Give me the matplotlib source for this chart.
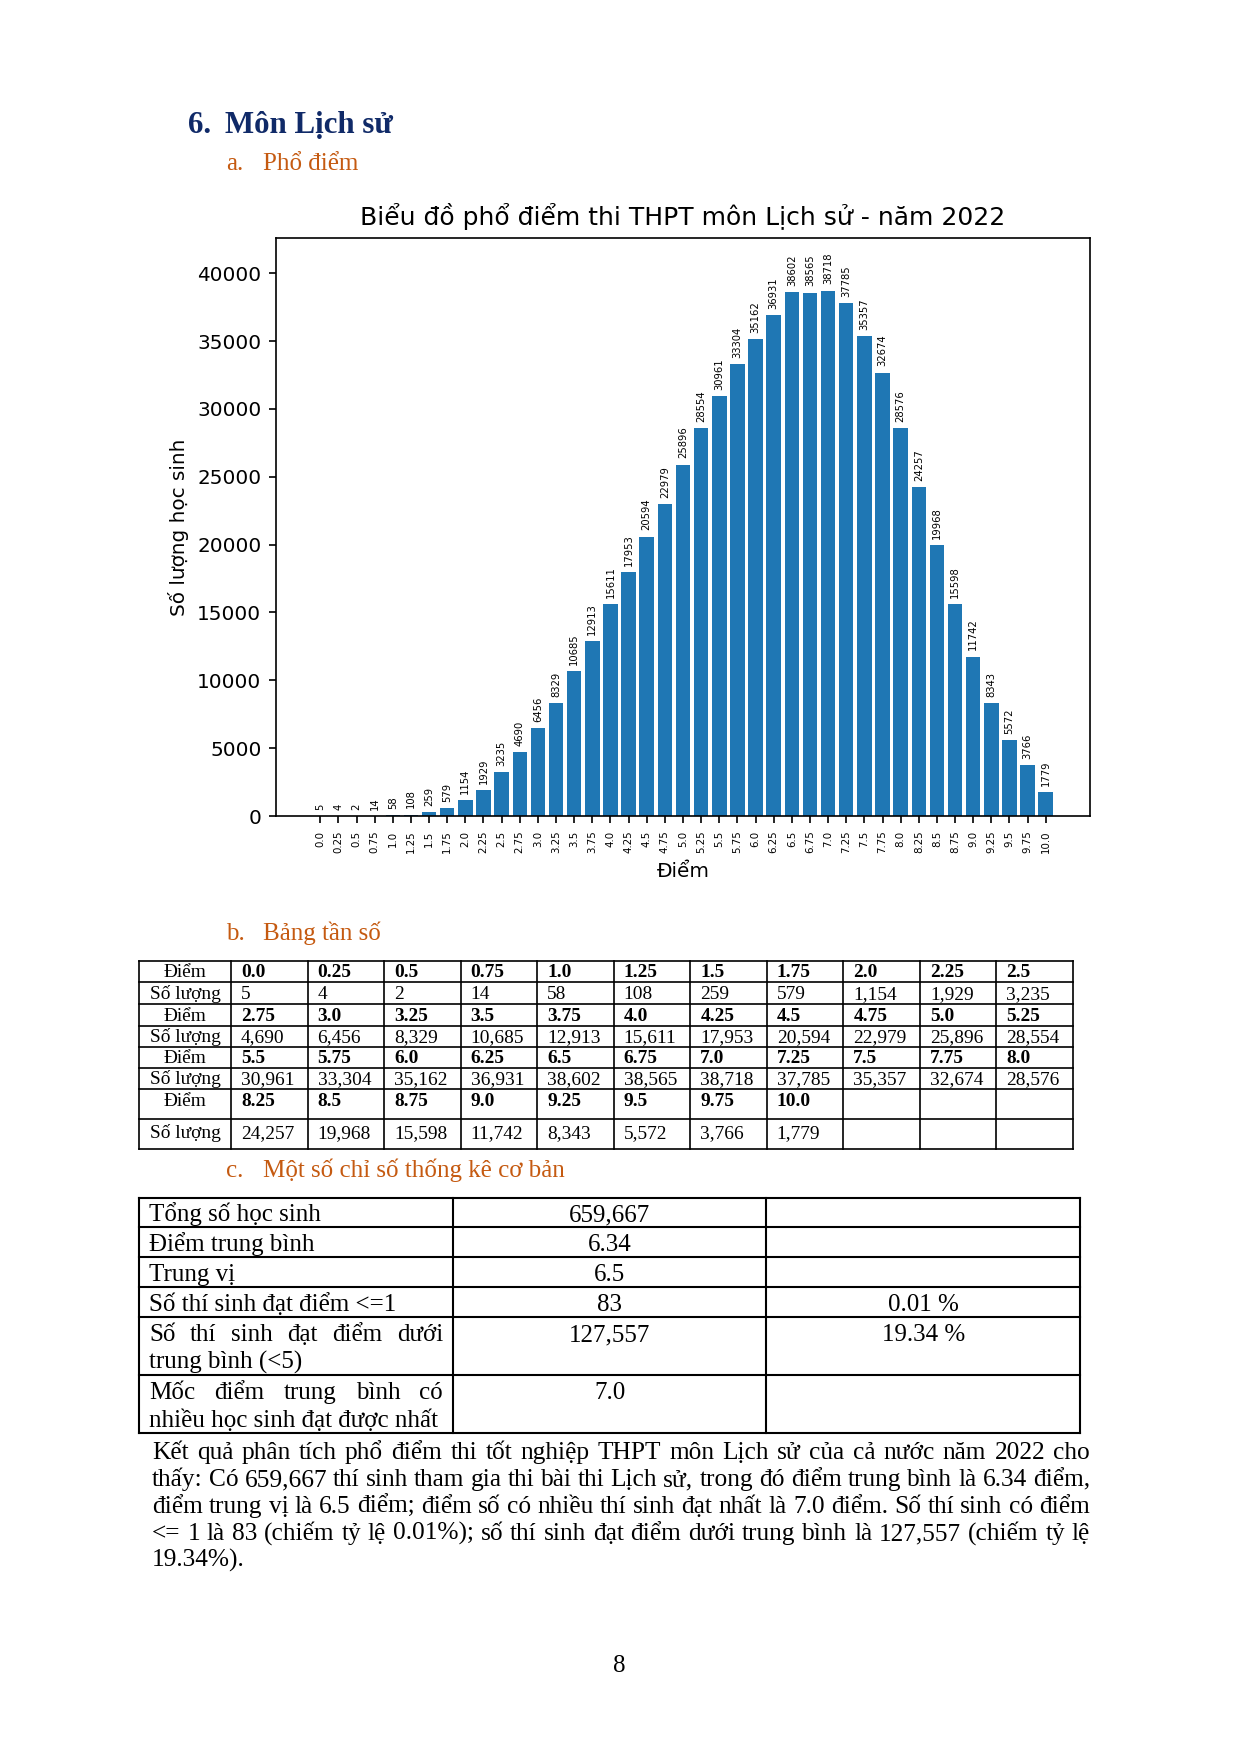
import matplotlib
matplotlib.use("Agg")
import matplotlib.pyplot as plt

# ---------------- data ----------------
scores = ['0.0', '0.25', '0.5', '0.75', '1.0', '1.25', '1.5', '1.75', '2.0', '2.25', '2.5',
          '2.75', '3.0', '3.25', '3.5', '3.75', '4.0', '4.25', '4.5', '4.75', '5.0', '5.25',
          '5.5', '5.75', '6.0', '6.25', '6.5', '6.75', '7.0', '7.25', '7.5', '7.75', '8.0',
          '8.25', '8.5', '8.75', '9.0', '9.25', '9.5', '9.75', '10.0']
counts = [5, 4, 2, 14, 58, 108, 259, 579, 1154, 1929, 3235,
          4690, 6456, 8329, 10685, 12913, 15611, 17953, 20594, 22979, 25896, 28554,
          30961, 33304, 35162, 36931, 38602, 38565, 38718, 37785, 35357, 32674, 28576,
          24257, 19968, 15598, 11742, 8343, 5572, 3766, 1779]

stat_labels = [["Tổng số học sinh"], ["Điểm trung bình"], ["Trung vị"],
               ["Số thí sinh đạt điểm <=1"],
               ["Số thí sinh đạt điểm dưới", "trung bình (<5)"],
               ["Mốc điểm trung bình có", "nhiều học sinh đạt được nhất"]]
stat_values = ["659,667", "6.34", "6.5", "83", "127,557", "7.0"]
stat_pcts = ["", "", "", "0.01 %", "19.34 %", ""]

paragraph = [
    "Kết quả phân tích phổ điểm thi tốt nghiệp THPT môn Lịch sử của cả nước năm 2022 cho",
    "thấy: Có 659,667 thí sinh tham gia thi bài thi Lịch sử, trong đó điểm trung bình là 6.34 điểm,",
    "điểm trung vị là 6.5 điểm; điểm số có nhiều thí sinh đạt nhất là 7.0 điểm. Số thí sinh có điểm",
    "<= 1 là 83 (chiếm tỷ lệ 0.01%); số thí sinh đạt điểm dưới trung bình là 127,557 (chiếm tỷ lệ",
    "19.34%).",
]

# ---------------- figure ----------------
W, H, DPI = 1240, 1754, 150
fig = plt.figure(figsize=(W / DPI, H / DPI), dpi=DPI)
bg = fig.add_axes([0, 0, 1, 1])
bg.set_xlim(0, W)
bg.set_ylim(H, 0)
bg.axis("off")
r = fig.canvas.get_renderer()

SERIF = "Liberation Serif"
NAVY = "#102A68"
ORANGE = "#C55A11"

# headings
bg.text(188, 133, "6.", fontsize=14.8, fontweight="bold", family=SERIF, color=NAVY, va="baseline")
bg.text(225, 133, "Môn Lịch sử", fontsize=14.8, fontweight="bold", family=SERIF, color=NAVY, va="baseline")
for y, a, b in [(170, "a.", "Phổ điểm"), (940, "b.", "Bảng tần số"), (1177, "c.", "Một số chỉ số thống kê cơ bản")]:
    bg.text(226, y, a, fontsize=12, family=SERIF, color=ORANGE, va="baseline")
    bg.text(263, y, b, fontsize=12, family=SERIF, color=ORANGE, va="baseline")

# ---------------- chart ----------------
L, R, T, B = 276, 1090, 238, 816
ax = fig.add_axes([L / W, 1 - B / H, (R - L) / W, (B - T) / H])
x = list(range(len(scores)))
bars = ax.bar(x, counts, color="#1f77b4", width=0.8)
ax.bar_label(bars, labels=[str(c) for c in counts], rotation=90, fontsize=4.8, padding=3)
ax.set_xticks(x)
ax.set_xticklabels(scores, rotation=90, fontsize=4.9)
ax.set_ylim(0, max(counts) * 1.1)
ax.tick_params(axis="y", labelsize=9.6)
ax.set_title("Biểu đồ phổ điểm thi THPT môn Lịch sử - năm 2022", fontsize=12)
ax.set_ylabel("Số lượng học sinh", fontsize=9.6)
ax.set_xlabel("Điểm", fontsize=9.6)

# ---------------- table b ----------------
LW = 0.8
tb_cols = [139, 231] + [231 + 76.545 * (k + 1) for k in range(11)]
tb_rows = [961, 982, 1004, 1026, 1047, 1068, 1089, 1119, 1149]
for xx in tb_cols:
    bg.plot([xx, xx], [tb_rows[0], tb_rows[-1]], color="black", lw=LW, solid_capstyle="projecting")
for yy in tb_rows:
    bg.plot([tb_cols[0], tb_cols[-1]], [yy, yy], color="black", lw=LW, solid_capstyle="projecting")
TBF = 9.3
for blk in range(4):
    r0 = 2 * blk
    if blk < 3:
        by1, by2 = tb_rows[r0 + 1] - 5, tb_rows[r0 + 2] - 5
    else:
        by1, by2 = tb_rows[r0] + 17, tb_rows[r0 + 2] - 11
    bg.text(185, by1, "Điểm", fontsize=TBF, family=SERIF, ha="center", va="baseline")
    bg.text(185, by2, "Số lượng", fontsize=TBF, family=SERIF, ha="center", va="baseline")
    for j in range(11):
        k = blk * 11 + j
        if k >= len(scores):
            break
        bg.text(tb_cols[j + 1] + 10, by1, scores[k], fontsize=TBF, family=SERIF,
                fontweight="bold", va="baseline")
        bg.text(tb_cols[j + 1] + 10, by2, f"{counts[k]:,}", fontsize=TBF, family=SERIF, va="baseline")


def word_widths(words, fs):
    ts = [bg.text(0, 0, w, fontsize=fs, family=SERIF, va="baseline") for w in words]
    ws = [t.get_window_extent(r).width for t in ts]
    for t in ts:
        t.remove()
    return ws


def justify(words_line, x0, x1, y, fs):
    words = words_line.split(" ")
    ts = [bg.text(0, y, w, fontsize=fs, family=SERIF, va="baseline") for w in words]
    ws = [t.get_window_extent(r).width for t in ts]
    gap = (x1 - x0 - sum(ws)) / max(len(words) - 1, 1)
    xx = x0
    for t, w in zip(ts, ws):
        t.set_x(xx)
        xx += w + gap


# ---------------- table c ----------------
tc_cols = [139, 452.7, 766.3, 1080]
tc_rows = [1198, 1227, 1257, 1287, 1317, 1375, 1433]
for xx in tc_cols:
    bg.plot([xx, xx], [tc_rows[0], tc_rows[-1]], color="black", lw=LW + 0.2, solid_capstyle="projecting")
for yy in tc_rows:
    bg.plot([tc_cols[0], tc_cols[-1]], [yy, yy], color="black", lw=LW + 0.2, solid_capstyle="projecting")
TCF = 12.0
for i in range(len(stat_values)):
    top, bot = tc_rows[i], tc_rows[i + 1]
    lines = stat_labels[i]
    if len(lines) == 1:
        y1 = bot - 6
        bg.text(149, y1, lines[0], fontsize=TCF, family=SERIF, va="baseline")
    else:
        y1 = top + 24
        justify(lines[0], 149, 443, y1, TCF)
        bg.text(149, y1 + 28, lines[1], fontsize=TCF, family=SERIF, va="baseline")
    bg.text((tc_cols[1] + tc_cols[2]) / 2, y1, stat_values[i], fontsize=TCF, family=SERIF,
            ha="center", va="baseline")
    if stat_pcts[i]:
        bg.text((tc_cols[2] + tc_cols[3]) / 2, y1, stat_pcts[i], fontsize=TCF, family=SERIF,
                ha="center", va="baseline")

# ---------------- paragraph ----------------
PX0, PX1 = 152, 1090
PF = 12.2
while PF > 9:
    ok = True
    for line in paragraph[:-1]:
        words = line.split(" ")
        ws = word_widths(words, PF)
        min_gap = 0.15 * PF * DPI / 72
        if sum(ws) + min_gap * (len(words) - 1) > PX1 - PX0:
            ok = False
            break
    if ok:
        break
    PF -= 0.1

py0, pstep = 1459, 27
for i, line in enumerate(paragraph):
    y = py0 + i * pstep
    if i < len(paragraph) - 1:
        justify(line, PX0, PX1, y, PF)
    else:
        bg.text(PX0, y, line, fontsize=PF, family=SERIF, va="baseline")

bg.text(619, 1672, "8", fontsize=12, family=SERIF, ha="center", va="baseline")

fig.savefig("out.png", dpi=DPI)
